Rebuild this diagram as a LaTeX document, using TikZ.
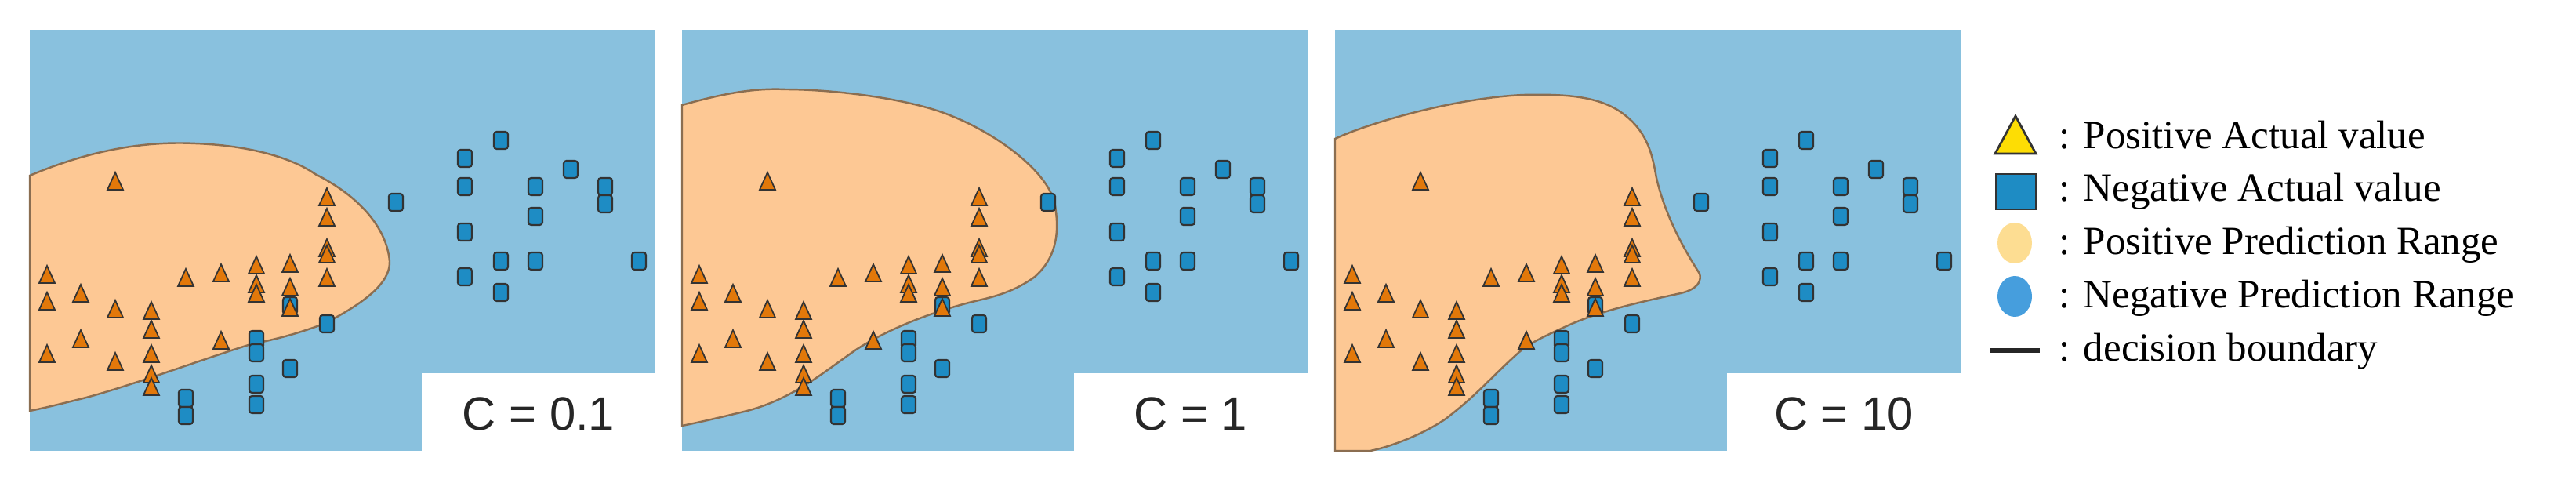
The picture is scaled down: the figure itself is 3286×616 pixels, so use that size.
\documentclass[tikz,border=0pt]{standalone}
\usepackage{fontspec}
\setmainfont{Liberation Serif}
\setsansfont{Liberation Sans}
\begin{document}
\begin{tikzpicture}[x=0.01cm,y=-0.01cm,
  bgc/.style={fill=bgblue},
  tri/.style={fill=triorange,draw=black!80,line width=0.5pt},
  sq/.style={fill=sqblue,draw=black!80,line width=0.6pt,rounded corners=1pt},
  lab/.style={font=\sffamily\fontsize{17}{17}\selectfont,text=black!85},
  leg/.style={font=\fontsize{14.5}{15}\selectfont,anchor=west,inner sep=0pt}]
\definecolor{bgblue}{RGB}{137,193,222}
\definecolor{posreg}{RGB}{253,200,148}
\definecolor{triorange}{RGB}{226,120,10}
\definecolor{sqblue}{RGB}{30,140,196}
\useasboundingbox (0,0) rectangle (3286,616);
\def\tris{109/232,379/252,379/278,379/317,379/325,379/355,22/351,22/385,65/375,65/433,22/452,109/395,109/462,155/397,155/421,155/452,155/478,155/494,199/355,244/349,244/435,289/339,289/363,289/375,332/337,332/367,332/393}
\def\sqs{467/258,555/202,601/179,555/238,645/238,690/216,734/238,734/260,645/276,555/296,601/333,645/333,777/333,555/353,601/373,379/413,289/433,289/450,332/470,289/490,289/516,199/508,199/530,332/390}
\newcommand{\panel}[3]{%
 \begin{scope}[xshift=#1*0.01cm]
  \fill[bgblue] (0,38) rectangle (798,575);
  \fill[white] (500,476) rectangle (800,580);
  \fill[posreg,draw=black!45!posreg,line width=0.7pt] #2;
  \foreach \x/\y in \sqs {\draw[sq] (\x-9,\y-11) rectangle (\x+9,\y+11);}
  \foreach \x/\y in \tris {\draw[tri] (\x-10,\y+10) -- (\x,\y-12) -- (\x+10,\y+10) -- cycle;}
  \node[lab] at (649,528) {#3};
 \end{scope}}
\panel{38}{(0,224) .. controls (80,190) and (150,180) .. (211,183) .. controls (290,186) and (340,205) .. (364,222) .. controls (420,250) and (455,290) .. (459,333) .. controls (460,355) and (440,380) .. (375,413) .. controls (330,430) and (300,435) .. (279,440) .. controls (230,455) and (120,495) .. (68,508) .. controls (40,515) and (20,520) .. (0,524) -- cycle}{C = 0.1}
\panel{870}{(0,134) .. controls (50,120) and (90,112) .. (132,114) .. controls (190,114) and (290,125) .. (344,148) .. controls (400,170) and (470,220) .. (476,263) .. controls (482,300) and (476,330) .. (450,353) .. controls (420,375) and (390,380) .. (370,385) .. controls (330,395) and (270,415) .. (222,446) .. controls (180,475) and (140,510) .. (79,525) .. controls (50,532) and (25,538) .. (0,543) -- cycle}{C = 1}
\panel{1703}{(0,177) .. controls (40,158) and (150,125) .. (241,121) .. controls (290,120) and (330,122) .. (360,140) .. controls (400,165) and (405,200) .. (410,227) .. controls (420,270) and (440,310) .. (465,349) .. controls (470,365) and (450,372) .. (441,374) .. controls (400,383) and (340,395) .. (293,417) .. controls (260,432) and (245,440) .. (235,449) .. controls (200,480) and (180,505) .. (140,535) .. controls (110,555) and (70,570) .. (45,575) -- (0,575) -- cycle}{C = 10}
% legend
\draw[fill=yellow!80!orange,draw=black!80,line width=0.8pt] (2545,196) -- (2571,148) -- (2597,196) -- cycle;
\node[leg] (t1) at (2626,172) {: Positive Actual value};
\draw[fill=sqblue,draw=black!80,line width=0.8pt] (2546,222) rectangle (2597,267);
\node[leg] (t2) at (2626,244) {: Negative Actual value};
\fill[yellow!40!orange!40] (2570,310) ellipse (22 and 26);
\node[leg] (t3) at (2626,312) {: Positive Prediction Range};
\fill[cyan!70!blue!75] (2570,378) ellipse (22 and 26);
\node[leg] (t4) at (2626,380) {: Negative Prediction Range};
\draw[line width=1.6pt,black!85] (2538,447) -- (2602,447);
\node[leg] (t5) at (2626,448) {: decision boundary};
\end{tikzpicture}
\end{document}
